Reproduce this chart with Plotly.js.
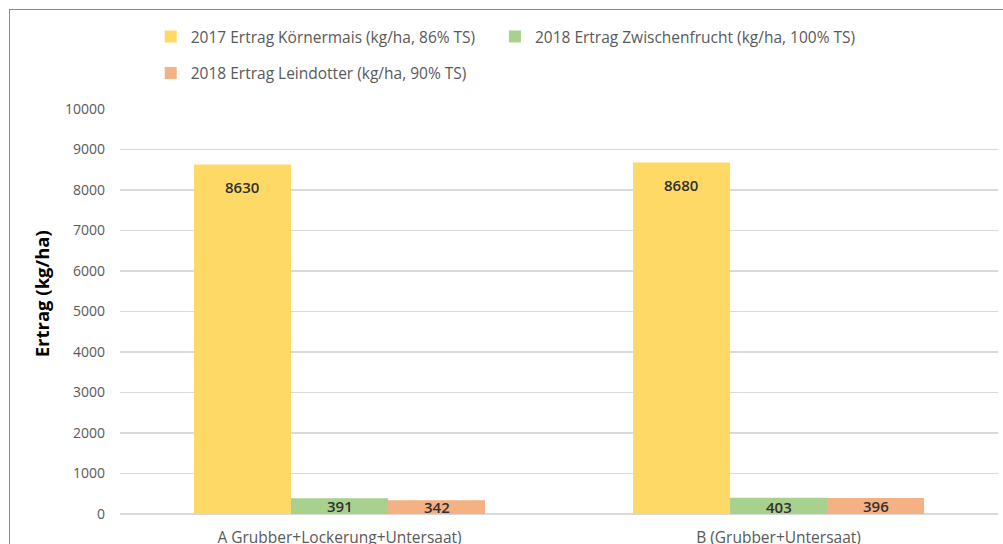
<!DOCTYPE html>
<html>
<head>
<meta charset="utf-8">
<script src="https://cdn.plot.ly/plotly-3.0.1.min.js"></script>
<style>
html,body{margin:0;padding:0;background:#fff;}
#wrap{position:relative;width:1003px;height:544px;overflow:hidden;}
#chart{position:absolute;left:0;top:0;width:1003px;height:544px;}
#frame{position:absolute;left:9px;top:9px;width:1010px;height:560px;border-left:1.5px solid #8a8a8a;border-top:1.5px solid #8a8a8a;pointer-events:none;}
</style>
</head>
<body>
<div id="wrap"><div id="chart"></div><div id="frame"></div></div>
<script>
const categories = ["A Grubber+Lockerung+Untersaat)", "B (Grubber+Untersaat)"];
const seriesNames = [
  "2017 Ertrag Körnermais (kg/ha, 86% TS)",
  "2018 Ertrag Zwischenfrucht (kg/ha, 100% TS)",
  "2018 Ertrag Leindotter (kg/ha, 90% TS)"
];
const koernermais = [8630, 8680];
const zwischenfrucht = [391, 403];
const leindotter = [342, 396];
const yTickValues = [0,1000,2000,3000,4000,5000,6000,7000,8000,9000,10000];
const yTitle = "Ertrag (kg/ha)";

const colors = ["#FFD966", "#A9D18E", "#F4B183"];
const seriesValues = [koernermais, zwischenfrucht, leindotter];
const legendIds = ["legend", "legend3", "legend2"];
const FONT = "Open Sans, sans-serif";

// layout geometry (styles)
const W = 1003, H = 544;
const M = {l: 120, r: 5, t: 109, b: 30};
const BARGAP = 0.337;
const YMAX = 10000;
const plotW = W - M.l - M.r, plotH = H - M.t - M.b;
const barPx = plotW / categories.length * (1 - BARGAP) / seriesValues.length;
const pxPerUnit = plotH / YMAX;

const traces = seriesValues.map((vals, i) => ({
  type: "bar",
  name: seriesNames[i],
  x: categories,
  y: vals,
  marker: {color: colors[i], line: {width: 0}},
  legend: legendIds[i],
  hoverinfo: "x+y+name"
}));

// value labels: inside the top of each bar, through the axis scales
const labelAnnotations = [];
seriesValues.forEach((vals, i) => {
  vals.forEach((v, j) => {
    const hPx = v * pxPerUnit;
    const drop = Math.min(22.5, hPx - 7.5);
    labelAnnotations.push({
      xref: "x", yref: "y",
      x: categories[j], y: v,
      xshift: (i - (seriesValues.length - 1) / 2) * barPx,
      yshift: -drop,
      xanchor: "center", yanchor: "middle",
      text: String(v), showarrow: false,
      font: {family: FONT, size: 15, weight: 600, color: "#303030"}
    });
  });
});

const legendFont = {family: FONT, size: 15.5, color: "#595959"};
const layout = {
  width: W, height: H,
  margin: M,
  paper_bgcolor: "rgba(0,0,0,0)",
  plot_bgcolor: "rgba(0,0,0,0)",
  font: {family: FONT, color: "#595959"},
  barmode: "group",
  bargap: BARGAP,
  bargroupgap: 0,
  xaxis: {
    type: "category",
    showgrid: false, zeroline: false, showline: false,
    ticks: "", tickfont: {family: FONT, size: 15.5, color: "#595959"},
    ticklabelstandoff: 12
  },
  yaxis: {
    range: [0, YMAX],
    tickvals: yTickValues,
    ticktext: yTickValues.map(String),
    showgrid: true, gridcolor: "#d9d9d9", gridwidth: 1.3,
    zeroline: true, zerolinecolor: "#d9d9d9", zerolinewidth: 1.3,
    showline: false, ticks: "",
    tickfont: {family: FONT, size: 14, color: "#595959"},
    ticklabelstandoff: 14
  },
  showlegend: true,
  legend: {
    orientation: "h", x: 0.035, xanchor: "left", y: 1.22, yanchor: "top",
    font: legendFont, bgcolor: "rgba(0,0,0,0)"
  },
  legend3: {
    orientation: "h", x: 0.427, xanchor: "left", y: 1.22, yanchor: "top",
    font: legendFont, bgcolor: "rgba(0,0,0,0)"
  },
  legend2: {
    orientation: "h", x: 0.035, xanchor: "left", y: 1.13, yanchor: "top",
    font: legendFont, bgcolor: "rgba(0,0,0,0)"
  },
  annotations: [{
    text: "<b>" + yTitle + "</b>",
    xref: "paper", yref: "paper",
    x: -0.09, y: 0.545, xanchor: "center", yanchor: "middle",
    textangle: -90, showarrow: false,
    font: {family: FONT, size: 18.5, color: "#000000"}
  }].concat(labelAnnotations)
};

Plotly.newPlot("chart", traces, layout, {displayModeBar: false, staticPlot: true});
</script>
</body>
</html>
